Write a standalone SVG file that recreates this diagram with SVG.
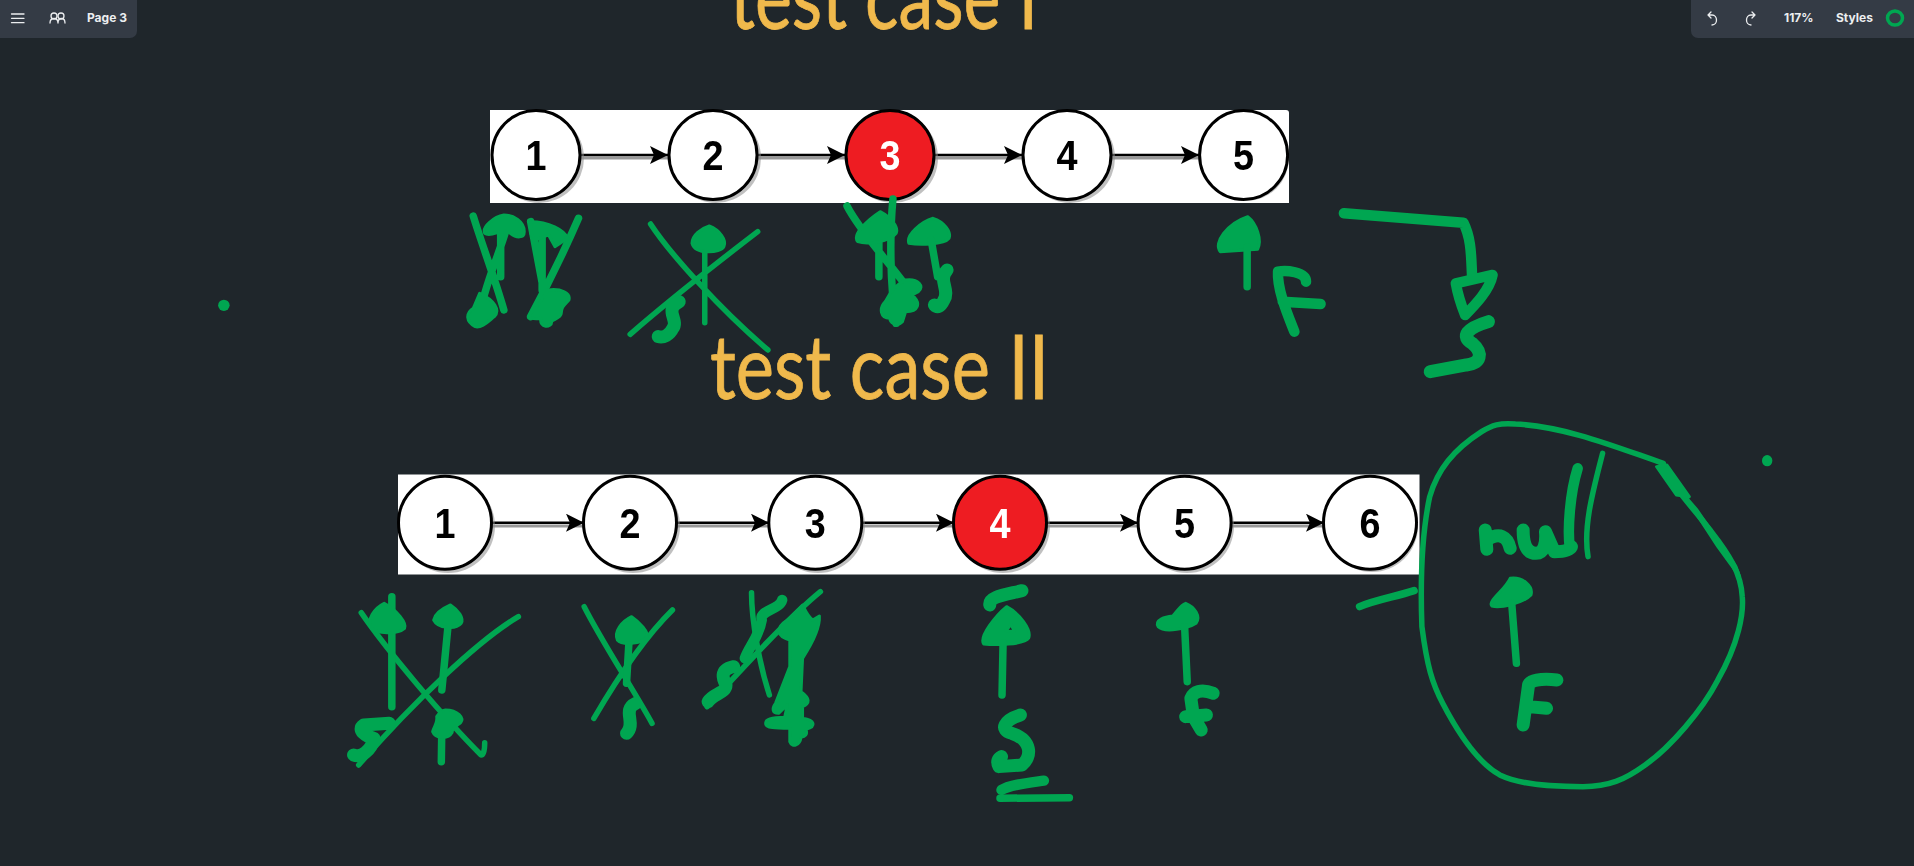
<svg xmlns="http://www.w3.org/2000/svg" width="1914" height="866" viewBox="0 0 1914 866">
<style>
.panel{fill:#343b45}
.ui{font-family:Inter,"Liberation Sans",sans-serif;font-weight:700;font-size:12px;fill:#eceef0}
.uil{fill:none;stroke:#eceef0;stroke-width:1.3;stroke-linecap:round;stroke-linejoin:round}
.title{font-family:Lato,"Open Sans",sans-serif;font-size:90px;fill:#f0b94c;stroke:#f0b94c;stroke-width:.8}
.sheet{fill:#fff}
.shadow{fill:#8c8c8c;opacity:.55}
.node{fill:#fff;stroke:#000;stroke-width:3}
.hot{fill:#ee1b20;stroke:#000;stroke-width:3}
.num{font-family:"Liberation Sans",Arial,sans-serif;font-weight:700;font-size:43px;text-anchor:middle;fill:#000}
.numw{fill:#fff}
.link{fill:none;stroke:#000;stroke-width:2.4;marker-end:url(#ah)}
.links{fill:none;stroke:#999;stroke-width:3}
.i{fill:none;stroke:#00a651;stroke-width:5.500;stroke-linecap:round;stroke-linejoin:round;vector-effect:non-scaling-stroke}
.s{stroke-width:7.500}
.t{stroke-width:10.500}
.k{stroke-width:13}
.b{fill:#00a651;stroke:#00a651;stroke-width:3;stroke-linejoin:round;vector-effect:non-scaling-stroke;fill-rule:evenodd}
.d{fill:#00a651}
</style>
<defs>
<marker id="ah" markerUnits="userSpaceOnUse" markerWidth="20" markerHeight="20" refX="18" refY="9" orient="auto"><path d="M0 0L18 9L0 18L4 9Z" fill="#000"/></marker>
<filter id="soft" x="-2%" y="-5%" width="104%" height="110%"><feGaussianBlur stdDeviation=".7"/></filter>
</defs>
<rect width="1914" height="866" fill="#1f262b"/>

<text class="title" x="730" y="29" textLength="308" lengthAdjust="spacingAndGlyphs">test case I</text>
<text class="title" x="710" y="399" textLength="339" lengthAdjust="spacingAndGlyphs">test case II</text>

<g id="toolbar-left">
<path class="panel" d="M0 0H137V31a7 7 0 0 1-7 7H0Z"/>
<path class="uil" d="M11.500 14H24M11.500 18.300H24M11.500 22.700H24"/>
<circle class="uil" cx="54" cy="16" r="3"/><circle class="uil" cx="61" cy="16" r="3"/>
<path class="uil" d="M50 23c0-6 8-6 8 0M58 23c0-6 7-6 7 0"/>
<text class="ui" x="87" y="22">Page 3</text>
</g>
<g id="toolbar-right">
<path class="panel" d="M1914 0H1691V31a7 7 0 0 0 7 7H1914Z"/>
<path class="uil" d="M1708 15h4c6 0 6 10 0 10M1708 15l3-3M1708 15l3 3"/>
<path class="uil" d="M1755 15h-4c-6 0-6 10 0 10M1755 15l-3-3M1755 15l-3 3"/>
<text class="ui" x="1784" y="22">117%</text>
<text class="ui" x="1836" y="22">Styles</text>
<ellipse cx="1895" cy="18" rx="7.500" ry="7" fill="none" stroke="#00a651" stroke-width="3.500"/>
</g>

<g id="list-1" filter="url(#soft)">
<path class="sheet" d="M490 110H1286a3 3 0 0 1 3 3V203H490Z"/>
<g id="connectors-1">
<path class="links" d="M581 158H668M758 158H845M935 158H1022M1112 158H1199"/>
<path class="link" d="M581 155H668"/><path class="link" d="M758 155H845"/><path class="link" d="M935 155H1022"/><path class="link" d="M1112 155H1199"/>
</g>
<g id="a1"><circle class="shadow" cx="539" cy="158" r="45"/><ellipse class="node" cx="536" cy="155" rx="44" ry="44.500"/><text class="num" x="536" y="170" textLength="21" lengthAdjust="spacingAndGlyphs">1</text></g>
<g id="a2"><circle class="shadow" cx="716" cy="158" r="45"/><ellipse class="node" cx="713" cy="155" rx="44" ry="44.500"/><text class="num" x="713" y="170" textLength="21" lengthAdjust="spacingAndGlyphs">2</text></g>
<g id="a3"><circle class="shadow" cx="893" cy="158" r="45"/><ellipse class="hot" cx="890" cy="155" rx="44" ry="44.500"/><text class="num numw" x="890" y="170" textLength="21" lengthAdjust="spacingAndGlyphs">3</text></g>
<g id="a4"><circle class="shadow" cx="1070" cy="158" r="45"/><ellipse class="node" cx="1067" cy="155" rx="44" ry="44.500"/><text class="num" x="1067" y="170" textLength="21" lengthAdjust="spacingAndGlyphs">4</text></g>
<g id="a5"><circle class="shadow" cx="1246" cy="158" r="43"/><ellipse class="node" cx="1243.600" cy="155" rx="44" ry="44.500"/><text class="num" x="1243.600" y="170" textLength="21" lengthAdjust="spacingAndGlyphs">5</text></g>
</g>

<g id="list-2" filter="url(#soft)">
<path class="sheet" d="M398 474.500H1419.500V574.500H398Z"/>
<g id="connectors-2">
<path class="links" d="M491 526H584M676 526H769M861 526H954M1046 526H1138M1231 526H1324"/>
<path class="link" d="M491 522.700H584"/><path class="link" d="M676 522.700H769"/><path class="link" d="M861 522.700H954"/><path class="link" d="M1046 522.700H1138"/><path class="link" d="M1231 522.700H1324"/>
</g>
<g id="b1"><circle class="shadow" cx="448" cy="526" r="47"/><circle class="node" cx="445" cy="522.700" r="46.500"/><text class="num" x="445" y="537.500" textLength="21" lengthAdjust="spacingAndGlyphs">1</text></g>
<g id="b2"><circle class="shadow" cx="633" cy="526" r="47"/><circle class="node" cx="630" cy="522.700" r="46.500"/><text class="num" x="630" y="537.500" textLength="21" lengthAdjust="spacingAndGlyphs">2</text></g>
<g id="b3"><circle class="shadow" cx="818" cy="526" r="47"/><circle class="node" cx="815.300" cy="522.700" r="46.500"/><text class="num" x="815.300" y="537.500" textLength="21" lengthAdjust="spacingAndGlyphs">3</text></g>
<g id="b4"><circle class="shadow" cx="1003" cy="526" r="47"/><circle class="hot" cx="1000" cy="522.700" r="46.500"/><text class="num numw" x="1000" y="537.500" textLength="21" lengthAdjust="spacingAndGlyphs">4</text></g>
<g id="b5"><circle class="shadow" cx="1187" cy="526" r="47"/><circle class="node" cx="1184.600" cy="522.700" r="46.500"/><text class="num" x="1184.600" y="537.500" textLength="21" lengthAdjust="spacingAndGlyphs">5</text></g>
<g id="b6"><circle class="shadow" cx="1372" cy="526" r="46"/><circle class="node" cx="1370" cy="522.700" r="46.500"/><text class="num" x="1370" y="537.500" textLength="21" lengthAdjust="spacingAndGlyphs">6</text></g>
</g>

<g id="ink-top-left" transform="scale(.6378,.3333)">
<path class="i s" d="M742 648C755 730 775 830 790 930M795 680C780 780 760 850 750 960M785 700V830"/>
<path class="b" d="M790 645C805 645 822 665 822 695C822 715 810 715 800 700C790 680 770 715 760 700C755 680 775 650 790 645ZM752 880C775 900 785 930 775 950C765 965 755 985 745 980C730 965 730 940 742 925Z"/>
<path class="i s" d="M907 655C890 730 860 850 832 950M832 665C840 750 850 850 860 950M850 690V870"/>
<path class="b" d="M832 665C860 665 885 690 890 715L870 740L860 705L840 720L832 700ZM860 870C880 865 895 880 892 900C885 915 880 920 880 940C880 955 865 960 865 965C865 985 845 985 848 955C835 960 825 950 832 940C845 920 850 890 860 870Z"/>
<path class="i" d="M1020 672C1050 760 1130 930 1204 1050M1188 695C1130 780 1050 900 988 1003M1105 750V968"/>
<path class="b" d="M1112 678C1128 690 1140 720 1135 740C1130 760 1090 765 1085 730C1085 705 1100 685 1112 678Z"/>
<path class="i k" d="M1065 905C1040 930 1065 960 1055 985C1050 1005 1040 1015 1032 1010"/>
<path class="i s" d="M1328 618C1350 700 1400 800 1425 870M1400 597C1395 700 1395 850 1405 970M1378 720V830"/>
<path class="b" d="M1380 635C1395 650 1410 680 1405 700C1395 725 1360 735 1345 725C1335 705 1360 660 1380 635ZM1420 840C1440 835 1450 860 1440 875L1430 885C1445 910 1440 935 1420 935L1415 965C1405 985 1395 965 1395 955C1380 955 1378 925 1388 905C1395 880 1405 850 1420 840ZM1463 655C1480 665 1492 695 1488 715C1480 735 1440 735 1425 730C1420 705 1445 665 1463 655Z"/>
<path class="i s" d="M1460 720L1470 830"/>
<path class="i k" d="M1485 810C1470 840 1490 870 1480 900C1475 920 1470 925 1465 915"/>
<ellipse class="d" cx="351" cy="916" rx="9" ry="17"/>
</g>

<g id="ink-top-right" transform="translate(1000 0) scale(.5829,.3333)">
<path class="b" d="M425 650C440 670 450 720 442 748L378 755C365 730 390 670 425 650Z"/>
<path class="i s" d="M424 740V860"/>
<path class="i t" d="M525 845C525 815 490 810 477 815C475 870 495 950 505 995M485 905L550 912"/>
<path class="i t" d="M590 640L795 668C810 720 808 780 810 830"/>
<path class="i t" d="M782 850L845 825C840 870 815 915 798 945C790 910 785 880 782 850Z"/>
<path class="i k" d="M838 965C800 985 790 1010 810 1030C830 1060 825 1090 800 1095L738 1115"/>
</g>

<g id="ink-bottom-left" transform="translate(300 440) scale(.5102,.3333)">
<path class="i" d="M120 518C170 630 280 830 355 945C360 945 362 930 362 908M428 530C350 600 220 790 115 975"/>
<path class="i s" d="M180 470V800M290 560L278 750M278 860L277 965"/>
<path class="b" d="M165 490C190 510 210 550 205 565C190 585 150 580 140 565C130 540 145 505 165 490ZM295 495C310 510 322 535 316 550C305 570 270 565 262 540C265 520 280 505 295 495ZM285 810C310 810 322 835 315 848C305 860 298 865 298 878C290 900 265 895 260 875C262 860 270 850 268 830C272 820 278 812 285 810Z"/>
<path class="i k" d="M175 850L125 855C110 870 130 890 145 895C140 930 120 955 105 945"/>
<path class="i" d="M557 500C590 600 650 740 690 850M730 510C670 600 620 720 576 835"/>
<path class="i s" d="M645 600L640 730"/>
<path class="b" d="M650 530C665 545 685 580 680 590C670 615 630 615 622 600C615 575 630 545 650 530Z"/>
<path class="i k" d="M658 790C630 810 660 850 640 880"/>
<path class="i" d="M885 458C885 540 900 670 920 765M1020 455C960 530 870 680 798 800"/>
<path class="i t" d="M945 480C940 510 900 510 905 540C900 590 880 620 872 655"/>
<path class="b" d="M985 495C990 510 995 530 1005 540L1018 528C1020 570 1000 620 985 655L982 755C1000 775 1000 790 985 800L985 835C1010 840 1012 860 992 868C995 885 990 890 982 892C980 915 965 925 960 905L960 865C935 865 910 865 913 848C913 835 930 832 950 832L955 795L938 820C925 820 925 805 932 790L960 680L960 600C935 590 930 565 955 540Z"/>
<path class="i k" d="M850 680C820 690 830 720 835 735C835 760 810 760 800 785"/>
<path class="i k" d="M1352 495C1350 470 1380 465 1415 452"/>
<path class="b" d="M1385 500C1410 520 1435 570 1428 595C1420 615 1360 615 1340 612C1330 590 1365 525 1385 500ZM1394 553L1384 572L1400 575Z"/>
<path class="i s" d="M1378 610L1376 765"/>
<path class="i k" d="M1412 825C1380 840 1370 870 1395 880C1435 900 1435 950 1415 975L1370 980C1365 965 1368 955 1375 950"/>
<path class="i t" d="M1458 1022C1420 1030 1390 1035 1375 1050"/>
<path class="i s" d="M1372 1075L1508 1073"/>
</g>

<g id="ink-bottom-right" transform="translate(1100 400) scale(.5192,.3333)">
<path class="b" d="M165 610C182 620 195 650 185 670C170 685 125 700 112 680C105 660 125 650 140 648C148 635 155 615 165 610Z"/>
<path class="i s" d="M163 680L168 845"/>
<path class="i k" d="M218 880C195 865 180 875 175 895L180 950L195 990M165 950L205 945"/>
<path class="i s" d="M500 620C530 600 570 590 605 572"/>
<path class="i" d="M1085 190C1000 145 900 80 800 72C770 68 755 75 735 95C680 150 650 210 635 290C620 400 617 550 620 680C630 800 640 850 660 910C690 1000 730 1090 770 1125C810 1155 870 1160 930 1160C980 1160 1010 1140 1050 1095C1100 1040 1160 930 1190 840C1230 730 1240 640 1237 590C1235 520 1210 460 1180 400C1150 340 1110 270 1080 200"/>
<path class="b" d="M1072 200L1092 195L1135 290L1110 285ZM1125 285L1150 330L1225 500L1232 530L1190 440Z"/>
<path class="i k" d="M742 390L745 448M745 420C770 395 785 410 790 445M815 390C815 430 820 460 840 460C855 460 860 430 858 395L875 455C895 455 905 450 908 440"/>
<path class="i t" d="M920 205C905 280 900 390 905 445"/>
<path class="i" d="M968 160C950 270 930 380 940 470"/>
<path class="b" d="M790 535C815 530 835 560 830 585C815 610 770 625 755 618C745 605 780 570 790 535Z"/>
<path class="i s" d="M793 610L802 790"/>
<path class="i k" d="M880 840C850 835 825 840 825 860L815 975M825 920L860 925"/>
<ellipse class="d" cx="1285" cy="182" rx="10" ry="17"/>
</g>
</svg>
